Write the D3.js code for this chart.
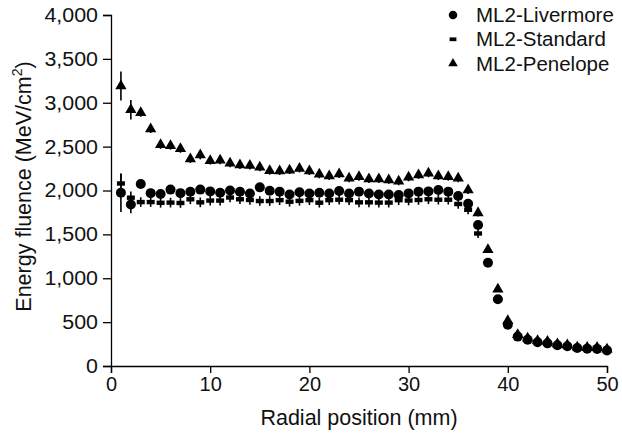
<!DOCTYPE html>
<html><head><meta charset="utf-8">
<script src="https://cdnjs.cloudflare.com/ajax/libs/d3/7.8.5/d3.min.js"></script>
<style>body{margin:0;background:#fff}svg{display:block}</style>
</head><body>
<svg id="chart" width="622" height="436"></svg>
<script>
const positions = d3.range(1, 51);
const livermore = [1975,1840,2075,1970,1960,2010,1970,1985,2010,1990,1975,2000,1985,1965,2036,1998,1987,1955,1980,1965,1975,1965,1994,1965,1987,1965,1955,1955,1948,1967,1987,1990,2005,1987,1937,1850,1607,1177,760,470,335,300,270,258,236,225,205,198,195,178];
const standard = [2080,1918,1868,1868,1860,1862,1858,1900,1865,1885,1885,1920,1900,1892,1880,1880,1890,1872,1882,1890,1861,1890,1895,1890,1865,1865,1862,1862,1890,1886,1892,1900,1895,1895,1846,1780,1510,1170,760,470,330,295,265,255,232,220,200,195,192,175];
const penelope = [3190,2920,2885,2700,2520,2510,2475,2360,2405,2340,2345,2310,2290,2285,2264,2225,2222,2232,2250,2222,2184,2165,2188,2139,2157,2131,2131,2120,2105,2150,2177,2196,2165,2157,2139,2005,1745,1325,875,515,355,315,288,278,252,240,215,212,210,192];
const livermoreErr = [220,100,45,50,45,45,45,45,45,45,45,45,45,45,45,45,45,45,45,45,45,45,45,45,45,45,45,45,45,45,45,45,45,45,45,40,40,35,30,25,20,20,20,20,20,20,20,20,20,20];
const standardErr = [110,70,55,55,55,55,55,55,55,55,55,55,55,55,55,55,55,55,55,55,55,55,55,55,55,55,55,55,55,55,55,55,55,55,55,50,50,35,30,25,20,20,20,20,20,20,20,20,20,20];
const penelopeErr = [165,110,45,45,45,45,45,45,50,45,45,45,45,45,45,45,45,45,45,45,45,45,45,45,45,45,45,45,45,45,45,45,45,45,45,45,40,35,30,25,20,20,20,20,20,20,20,20,20,20];
const seriesNames = ["ML2-Livermore", "ML2-Standard", "ML2-Penelope"];
const yTicks = [0,500,1000,1500,2000,2500,3000,3500,4000];
const xTicks = [0,10,20,30,40,50];

const svg = d3.select("#chart");
const font = "'Liberation Sans', Arial, sans-serif";
const x = d3.scaleLinear().domain([0, 50]).range([111, 607]);
const y = d3.scaleLinear().domain([0, 4000]).range([366, 15]);

function stretch(sel, k) {
  sel.each(function() {
    const w = this.getComputedTextLength();
    d3.select(this).attr("textLength", w * k).attr("lengthAdjust", "spacingAndGlyphs");
  });
}

// axes
const gx = svg.append("g").attr("transform", `translate(0,${y(0)})`)
  .call(d3.axisBottom(x).tickValues(xTicks).tickSize(7).tickPadding(4).tickFormat(d3.format("d")));
const gy = svg.append("g").attr("transform", `translate(${x(0)},0)`)
  .call(d3.axisLeft(y).tickValues(yTicks).tickSize(8).tickPadding(5).tickFormat(d3.format(",")));
[gx, gy].forEach(g => {
  g.select(".domain").attr("stroke", "#000").attr("stroke-width", 1.3);
  g.selectAll(".tick line").attr("stroke", "#000").attr("stroke-width", 1.3);
  g.selectAll(".tick text").attr("font-family", font).attr("font-size", 20).attr("fill", "#111");
});
stretch(gy.selectAll(".tick text"), 1.07);

svg.append("text").attr("x", (x(0)+x(50))/2).attr("y", 425).attr("text-anchor", "middle")
  .attr("font-family", font).attr("font-size", 21.5).attr("fill", "#111").text("Radial position (mm)");
const yt = svg.append("text").attr("transform", `translate(31,${(y(0)+y(4000))/2 - 4}) rotate(-90)`)
  .attr("text-anchor", "middle").attr("font-family", font).attr("font-size", 21.5).attr("fill", "#111");
yt.append("tspan").text("Energy fluence (MeV/cm");
yt.append("tspan").attr("font-size", 14).attr("dy", -9).text("2");
yt.append("tspan").attr("dy", 9).text(")");

const series = [
  {name: seriesNames[0], vals: livermore, err: livermoreErr, type: "circle"},
  {name: seriesNames[1], vals: standard, err: standardErr, type: "dash"},
  {name: seriesNames[2], vals: penelope, err: penelopeErr, type: "triangle"}
];

function drawMarker(g, type, scale) {
  if (type === "circle") g.append("circle").attr("r", 5 * scale).attr("fill", "#000");
  else if (type === "dash") g.append("rect").attr("x", -4 * scale).attr("y", -2.2 * scale).attr("width", 8 * scale).attr("height", 4.4 * scale).attr("fill", "#000");
  else g.append("path").attr("d", d3.symbol().type(d3.symbolTriangle).size(55 * scale * scale)()).attr("fill", "#000");
}

// error bars first
series.forEach(s => {
  svg.append("g").selectAll("line").data(positions).join("line")
    .attr("x1", d => x(d)).attr("x2", d => x(d))
    .attr("y1", (d, i) => y(s.vals[i] + s.err[i])).attr("y2", (d, i) => y(s.vals[i] - s.err[i]))
    .attr("stroke", "#000").attr("stroke-width", 1.6);
});
// markers
[series[1], series[0], series[2]].forEach(s => {
  const g = svg.append("g");
  positions.forEach((p, i) => {
    const m = g.append("g").attr("transform", `translate(${x(p)},${y(s.vals[i])})`);
    drawMarker(m, s.type, 1);
  });
});

// legend
const leg = svg.append("g");
series.forEach((s, i) => {
  const row = leg.append("g").attr("transform", `translate(453,${15 + i * 24.3})`);
  drawMarker(row, s.type, 0.85);
  row.append("text").attr("x", 23).attr("dy", "0.35em").attr("font-family", font)
    .attr("font-size", 20.5).attr("fill", "#111").text(s.name);
});
</script>
</body></html>
